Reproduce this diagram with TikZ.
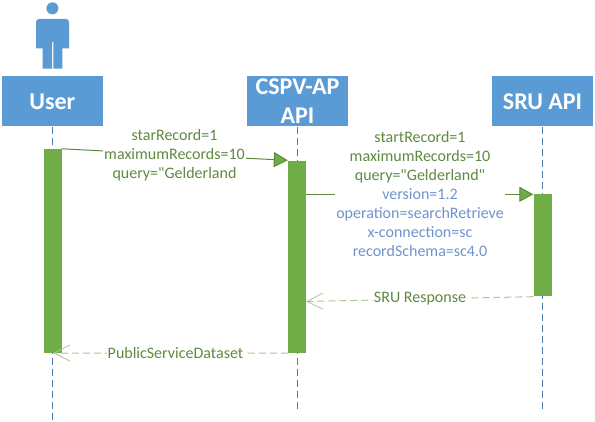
\documentclass[tikz,border=0pt]{standalone}
\usepackage{fontspec}
\setmainfont{Carlito}
\newfontfamily\lblfont{Carlito}
\usetikzlibrary{arrows.meta}
\definecolor{hdrblue}{HTML}{5B9BD5}
\definecolor{barGreen}{HTML}{70AD47}
\definecolor{txtGreen}{HTML}{5F8A3F}
\definecolor{lblue}{HTML}{6F94CD}
\definecolor{arrGreen}{HTML}{A9C79A}
\tikzset{
 x=1pt,y=-1pt,
 hdr/.style={fill=hdrblue,text=white,minimum width=101pt,minimum height=50pt,inner sep=0pt,align=center,font=\fontsize{24}{29}\selectfont\bfseries},
 bar/.style={fill=barGreen,minimum width=18pt,inner sep=0pt},
 life/.style={draw=hdrblue!80!black,line width=.7pt,dash pattern=on 7pt off 4pt},
 lbl/.style={fill=white,inner sep=1pt,align=center,font=\lblfont\fontsize{16}{19}\selectfont,text=txtGreen},
 call/.style={draw=barGreen!80!black,line width=1pt,-{Triangle[length=14pt,width=15pt,fill=barGreen]}},
 reply/.style={draw=arrGreen,line width=1pt,dash pattern=on 7pt off 4pt,-{Straight Barb[length=16pt,width=16pt,line width=.8pt]}},
}
\begin{document}
\begin{tikzpicture}
\useasboundingbox (0,0) rectangle (595,422);
% actor
\fill[hdrblue] (52.4,8.3) circle (6);
\fill[hdrblue] (36,48.3) [rounded corners=3pt] -- (36,19) -- (69,19) [sharp corners] -- (69,48.3) -- (62.3,48.3) -- (62.3,68.7) -- (53.3,68.7) -- (53.3,42) -- (52,42) -- (52,68.7) -- (42.7,68.7) -- (42.7,48.3) -- cycle;
% headers
\node[hdr] (user) at (52.3,101.5) {User};
\node[hdr] (cspv) at (297.5,101.5) {CSPV-AP\\API};
\node[hdr] (sru) at (542.5,101.5) {SRU API};
% lifeline ends
\coordinate (userEnd) at (52.3,422);
\coordinate (cspvEnd) at (297.5,410);
\coordinate (sruEnd) at (542.5,410);
\draw[life] (user.south) -- (userEnd);
\draw[life] (cspv.south) -- (cspvEnd);
\draw[life] (sru.south) -- (sruEnd);
% activation bars
\node[bar,minimum height=204pt] (barU) at (52.5,251) {};
\node[bar,minimum height=192.5pt] (barC) at (297,256.8) {};
\node[bar,minimum height=102pt] (barS) at (542.5,245.5) {};
% connectors
\draw[call] (barU.north east) -- (barC.north west);
\node[lbl] (l1) at (174.5,155.5) {starRecord=1\\maximumRecords=10\\query="Gelderland};
\coordinate (c2s) at (barC.east |- barS.north);
\draw[call] (c2s) -- (barS.north west);
\node[lbl] (l2) at (420,194.5) {\textcolor{txtGreen}{startRecord=1}\\\textcolor{txtGreen}{maximumRecords=10}\\\textcolor{txtGreen}{query="Gelderland"}\\\textcolor{lblue}{version=1.2}\\\textcolor{lblue}{operation=searchRetrieve}\\\textcolor{lblue}{x-connection=sc}\\\textcolor{lblue}{recordSchema=sc4.0}};
\coordinate (c3e) at (306,301.5);
\draw[reply] (barS.south west) -- (c3e);
\node[lbl,inner ysep=0pt] (l3) at (420,299) {SRU Response};
\coordinate (c4e) at (53,353);
\draw[reply] (barC.south west) -- (c4e);
\node[lbl,inner ysep=0pt] (l4) at (175.5,353) {PublicServiceDataset};
\end{tikzpicture}
\end{document}
